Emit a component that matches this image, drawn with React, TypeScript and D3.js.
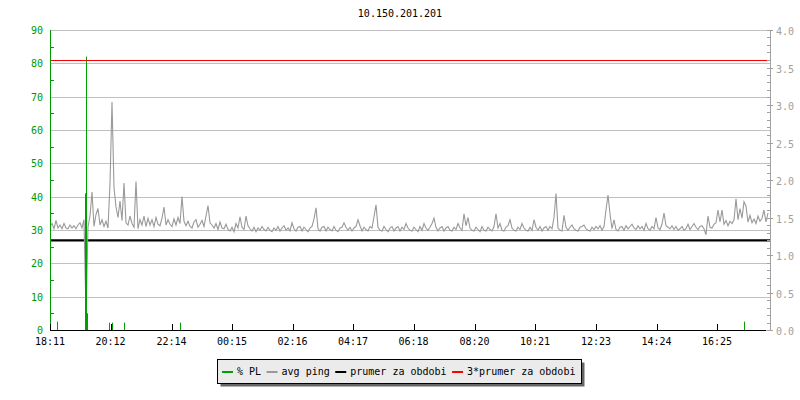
import React from 'react';
import * as d3 from 'd3';

// avg ping [ms], one sample every 4 minutes starting at 18:11
const avgPing: number[] = [
  1.38, 1.42, 1.35, 1.46, 1.36, 1.40, 1.35, 1.42, 1.36, 1.35, 1.40, 1.36, 1.39, 1.35, 1.40, 1.43, 1.36, 1.47, 0.22, 1.37, 1.52, 1.84, 1.38, 1.54, 1.62, 1.40, 1.47, 1.38, 1.45, 1.36,
  1.95, 3.04, 1.90, 1.64, 1.50, 1.72, 1.46, 1.96, 1.43, 1.40, 1.52, 1.42, 1.37, 1.98, 1.35, 1.47, 1.40, 1.52, 1.38, 1.49, 1.40, 1.47, 1.38, 1.50, 1.41, 1.39, 1.49, 1.64, 1.40, 1.47,
  1.41, 1.38, 1.48, 1.40, 1.50, 1.42, 1.78, 1.45, 1.39, 1.45, 1.38, 1.36, 1.44, 1.47, 1.37, 1.41, 1.46, 1.38, 1.52, 1.66, 1.43, 1.40, 1.36, 1.42, 1.34, 1.44, 1.36, 1.35, 1.41, 1.34,
  1.32, 1.37, 1.31, 1.42, 1.36, 1.51, 1.37, 1.34, 1.52, 1.39, 1.35, 1.32, 1.37, 1.31, 1.36, 1.33, 1.38, 1.34, 1.32, 1.37, 1.33, 1.31, 1.36, 1.33, 1.38, 1.32, 1.36, 1.39, 1.33, 1.36,
  1.32, 1.43, 1.35, 1.32, 1.37, 1.38, 1.32, 1.37, 1.34, 1.31, 1.36, 1.38, 1.48, 1.63, 1.35, 1.32, 1.37, 1.38, 1.32, 1.37, 1.34, 1.32, 1.38, 1.33, 1.31, 1.36, 1.37, 1.43, 1.37, 1.33,
  1.37, 1.32, 1.36, 1.38, 1.47, 1.39, 1.32, 1.37, 1.34, 1.32, 1.38, 1.36, 1.51, 1.67, 1.37, 1.33, 1.32, 1.38, 1.34, 1.31, 1.36, 1.38, 1.32, 1.36, 1.38, 1.32, 1.37, 1.34, 1.42, 1.36,
  1.33, 1.32, 1.37, 1.34, 1.31, 1.38, 1.33, 1.42, 1.36, 1.33, 1.37, 1.42, 1.49, 1.37, 1.32, 1.36, 1.38, 1.32, 1.36, 1.38, 1.33, 1.32, 1.37, 1.34, 1.42, 1.36, 1.33, 1.55, 1.39, 1.50,
  1.36, 1.33, 1.32, 1.37, 1.34, 1.31, 1.38, 1.33, 1.32, 1.37, 1.34, 1.32, 1.38, 1.55, 1.36, 1.42, 1.33, 1.32, 1.37, 1.39, 1.47, 1.36, 1.33, 1.32, 1.37, 1.34, 1.42, 1.36, 1.33, 1.32,
  1.37, 1.33, 1.47, 1.37, 1.33, 1.38, 1.32, 1.36, 1.38, 1.33, 1.38, 1.35, 1.50, 1.82, 1.36, 1.33, 1.32, 1.53, 1.37, 1.33, 1.37, 1.40, 1.35, 1.33, 1.32, 1.37, 1.38, 1.40, 1.35, 1.33,
  1.32, 1.37, 1.34, 1.38, 1.35, 1.39, 1.33, 1.38, 1.60, 1.80, 1.55, 1.35, 1.47, 1.34, 1.32, 1.37, 1.38, 1.33, 1.39, 1.35, 1.38, 1.41, 1.36, 1.34, 1.39, 1.35, 1.38, 1.33, 1.42, 1.35,
  1.33, 1.38, 1.35, 1.50, 1.36, 1.34, 1.41, 1.56, 1.39, 1.37, 1.35, 1.39, 1.34, 1.38, 1.33, 1.35, 1.38, 1.33, 1.35, 1.41, 1.34, 1.38, 1.42, 1.37, 1.34, 1.38, 1.39, 1.35, 1.27, 1.52,
  1.37, 1.36, 1.41, 1.43, 1.60, 1.44, 1.60, 1.41, 1.46, 1.39, 1.45, 1.42, 1.47, 1.75, 1.47, 1.62, 1.49, 1.71, 1.65, 1.44, 1.53, 1.43, 1.48, 1.42, 1.52, 1.45, 1.49, 1.60, 1.44, 1.56,
];
const pingStep = 4; // minutes per sample

// packet loss [%] – only the non zero moments (minutes after 18:11)
const plMinutes = [14, 69, 71, 73, 118, 124, 148, 260, 1388];
const plValues = [2.5, 41, 82, 5, 2.2, 2.2, 2.2, 2.2, 2.5];

const meanPing = 1.196;

const tickLabels = ['18:11', '20:12', '22:14', '00:15', '02:16', '04:17', '06:18', '08:20', '10:21', '12:23', '14:24', '16:25'];
const tickMinutes = [0, 121, 243, 364, 485, 606, 727, 849, 970, 1092, 1213, 1334];

const legendItems = ['% PL', 'avg ping', 'prumer za obdobi', '3*prumer za obdobi'];
const legendColors = ['#00a000', '#999999', '#000000', '#ff0000'];

const W = 800, H = 400;
const left = 50, right = 770, top = 30, bottom = 330;
const font = '"DejaVu Sans Mono", monospace';
const green = '#009900';

export default function App() {
  const x = d3.scaleLinear().domain([0, 1440]).range([left, right]);
  const yPl = d3.scaleLinear().domain([0, 90]).range([bottom, top]);
  const yMs = d3.scaleLinear().domain([0, 4]).range([bottom, top]);

  const pingLine = d3.line<number>()
    .x((_, i) => x(i * pingStep))
    .y(d => yMs(d));

  const leftMajor = d3.range(0, 91, 10);
  const leftMinor = d3.range(5, 90, 10);
  const rightMajor = d3.range(0, 4.01, 0.5);
  const rightMinor = d3.range(0, 4.01, 0.1);

  // legend layout (monospace, 10px => ~6px per char)
  const cw = 6.02;
  let lx = 222;
  const legendPos = legendItems.map(t => {
    const p = lx;
    lx += 11 + 4 + t.length * cw + 5.5;
    return p;
  });

  const redY = Math.round(yMs(meanPing * 3)) - 0.5;

  return (
    <svg width={W} height={H} style={{ position: 'absolute', left: 0, top: 0, background: '#fff' }}
      fontFamily={font} fontSize={10}>
      <rect width={W} height={H} fill="#fff" />
      <text x={W / 2} y={17} textAnchor="middle" fill="#000">10.150.201.201</text>

      {/* grid */}
      {leftMajor.map(v => (
        <line key={'g' + v} x1={left} x2={right} y1={Math.round(yPl(v)) + 0.5} y2={Math.round(yPl(v)) + 0.5}
          stroke="#c0c0c0" strokeWidth={1} />
      ))}

      {/* mean line */}
      <line x1={left} x2={right} y1={yMs(meanPing)} y2={yMs(meanPing)} stroke="#000" strokeWidth={2.2} />

      {/* avg ping */}
      <path d={pingLine(avgPing) ?? ''} fill="none" stroke="#999999" strokeWidth={1.1} />

      {/* packet loss */}
      {plMinutes.map((m, i) => (
        <line key={'pl' + i} x1={Math.round(x(m)) + 0.5} x2={Math.round(x(m)) + 0.5}
          y1={bottom} y2={yPl(plValues[i])} stroke="#00a000" strokeWidth={1} />
      ))}

      <line x1={left} x2={right} y1={redY} y2={redY} stroke="#ff0000" strokeWidth={1} shapeRendering="crispEdges" />

      {/* left axis */}
      <line x1={left + 0.5} x2={left + 0.5} y1={top} y2={bottom} stroke={green} />
      {leftMinor.map(v => (
        <line key={'lm' + v} x1={left} x2={left + 4} y1={Math.round(yPl(v)) + 0.5} y2={Math.round(yPl(v)) + 0.5} stroke={green} />
      ))}
      {leftMajor.map(v => (
        <text key={'ll' + v} x={43} y={yPl(v) + 4} textAnchor="end" fill={green}>{v}</text>
      ))}

      {/* right axis */}
      <line x1={right + 0.5} x2={right + 0.5} y1={top} y2={bottom} stroke="#a0a0a0" />
      {rightMinor.map((v, i) => (
        <line key={'rm' + i} x1={right - 3} x2={right} y1={Math.round(yMs(v)) + 0.5} y2={Math.round(yMs(v)) + 0.5} stroke="#a0a0a0" />
      ))}
      {rightMajor.map(v => (
        <line key={'rM' + v} x1={right - 3} x2={right + 3} y1={Math.round(yMs(v)) + 0.5} y2={Math.round(yMs(v)) + 0.5} stroke="#a0a0a0" />
      ))}
      {rightMajor.map(v => (
        <text key={'rl' + v} x={776} y={yMs(v) + 5} fill="#a0a0a0">{v.toFixed(1)}</text>
      ))}

      {/* x axis */}
      <line x1={left} x2={766} y1={bottom + 0.5} y2={bottom + 0.5} stroke="#000" />
      {tickMinutes.map((m, i) => (
        <g key={'xt' + i}>
          <line x1={Math.round(x(m)) + 0.5} x2={Math.round(x(m)) + 0.5} y1={bottom} y2={bottom - 6} stroke="#000" />
          <text x={x(m)} y={345} textAnchor="middle" fill="#000">{tickLabels[i]}</text>
        </g>
      ))}

      {/* legend */}
      <rect x={220.5} y={362.5} width={364} height={24} fill="#666" />
      <rect x={217.5} y={359.5} width={364} height={24} fill="#ebebeb" stroke="#000" />
      {legendItems.map((t, i) => (
        <g key={'lg' + i}>
          <line x1={legendPos[i]} x2={legendPos[i] + 11} y1={372} y2={372} stroke={legendColors[i]} strokeWidth={2} />
          <text x={legendPos[i] + 15} y={375} fill="#000">{t}</text>
        </g>
      ))}
    </svg>
  );
}
